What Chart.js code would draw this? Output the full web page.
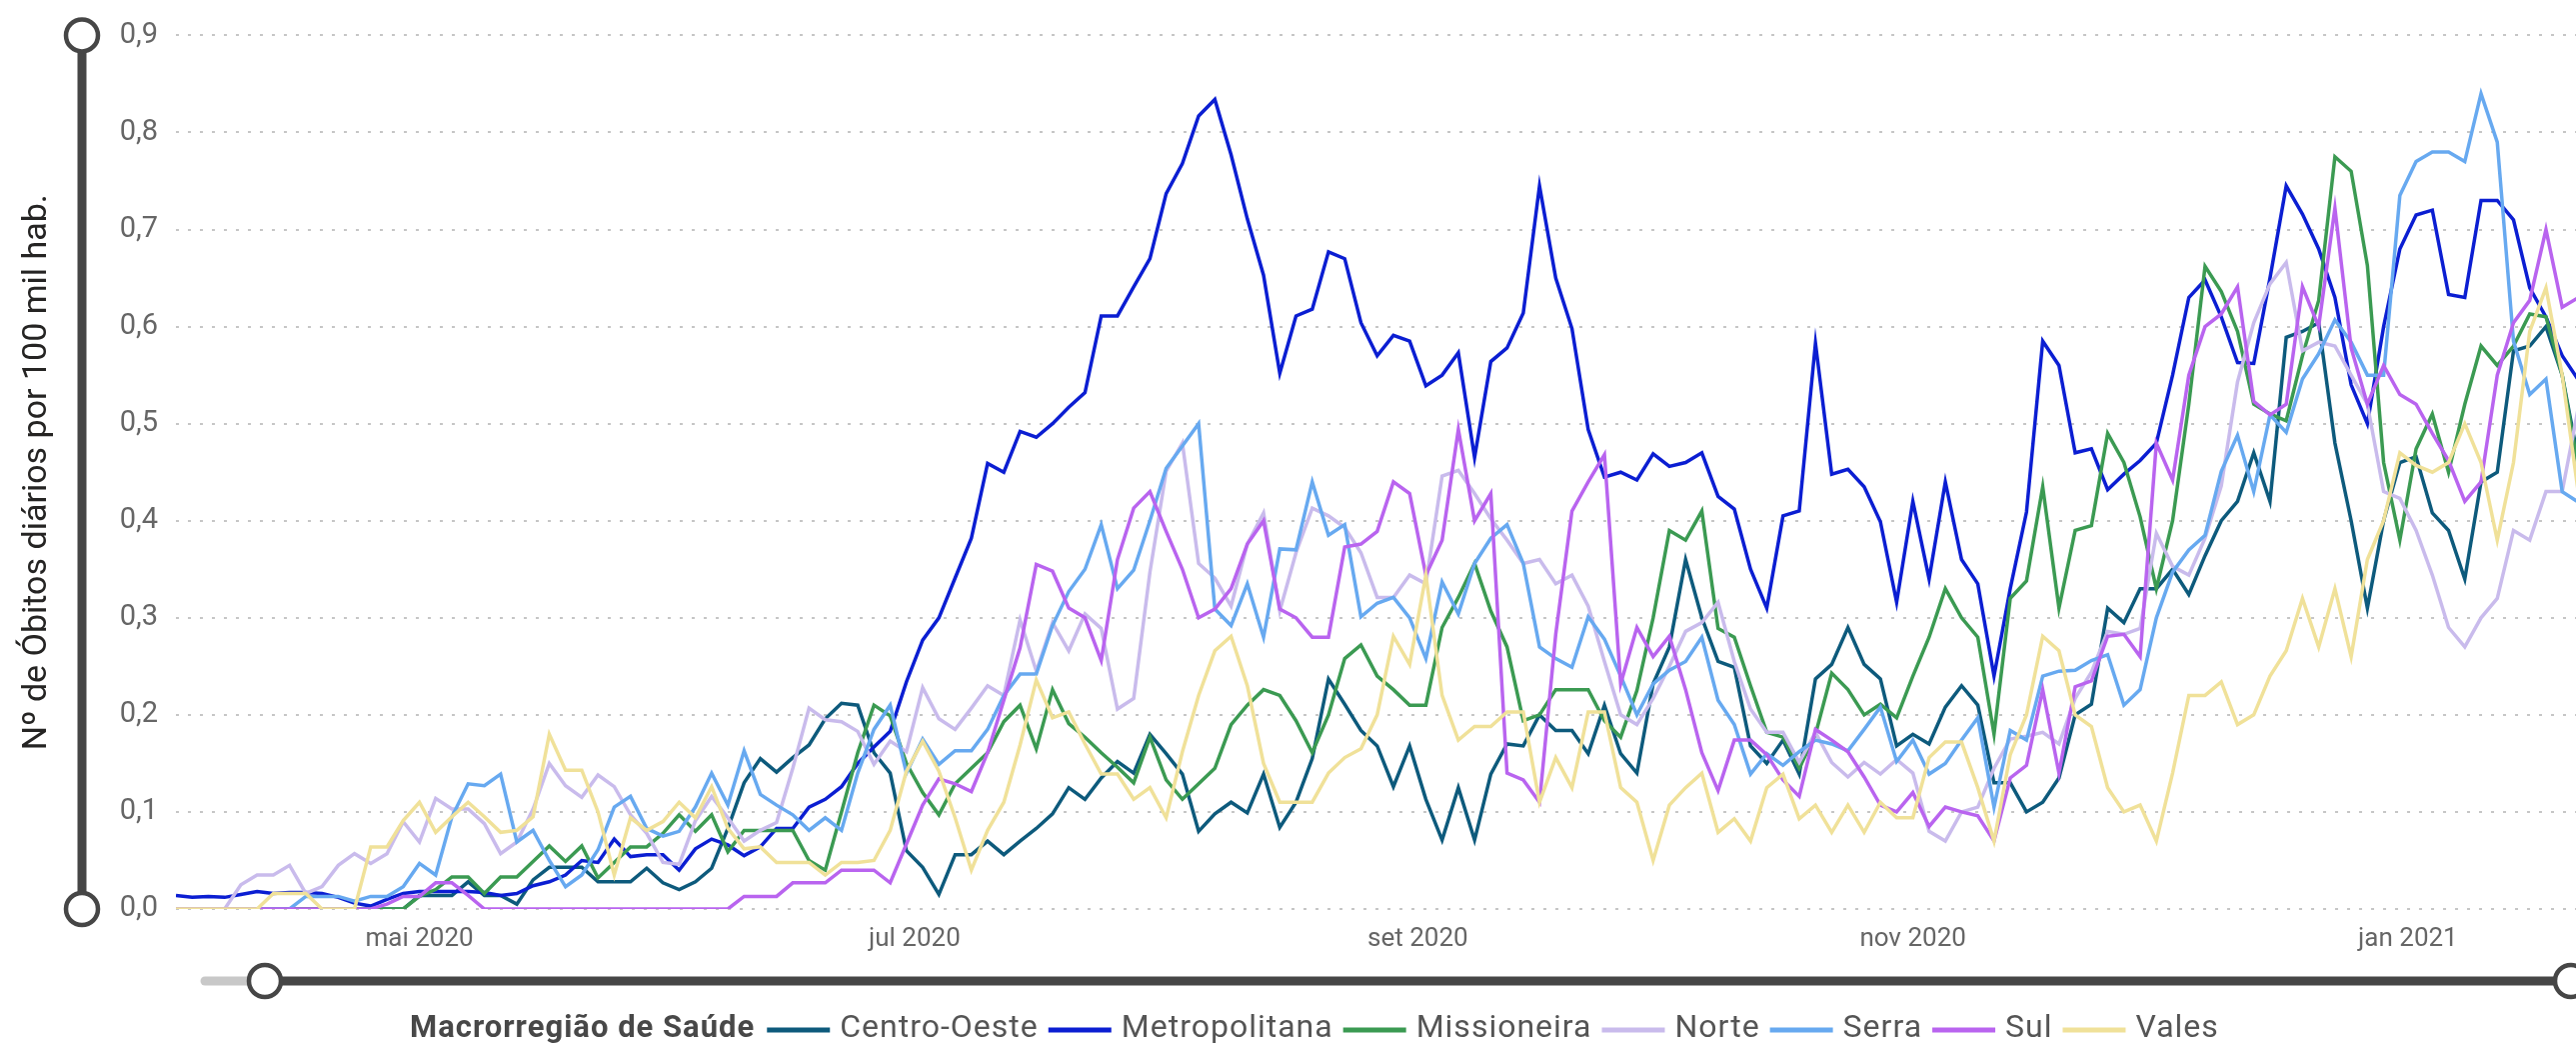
<!DOCTYPE html>
<html lang="pt-BR">
<head>
<meta charset="UTF-8">
<title>Óbitos diários por Macrorregião de Saúde</title>
<script src="https://cdn.jsdelivr.net/npm/chart.js@4"></script>
<style>
  html, body { margin: 0; padding: 0; background: #fff; overflow: hidden; }
  canvas { display: block; }
</style>
</head>
<body>
<canvas id="grafico" width="2577" height="1045"></canvas>
<script>
// valores lidos a cada 2 dias, a partir de 01/04/2020
const inicio = '2020-04-01';
const passoDias = 2;

const regioes = ['Centro-Oeste', 'Metropolitana', 'Missioneira', 'Norte', 'Serra', 'Sul', 'Vales'];
const cores = ['#0d5a7c', '#0b1ed2', '#3b9a52', '#c9bbec', '#67a9f0', '#b964ef', '#f0e199'];

const centroOeste = [
  0, 0, 0, 0, 0, 0, 0, 0, 0, 0,
  0, 0, 0, 0, 0, .014, .014, .014, .028, .014,
  .014, .005, .030, .043, .043, .043, .028, .028, .028, .042,
  .027, .020, .028, .042, .083, .130, .155, .141, .156, .169,
  .196, .212, .210, .161, .140, .060, .043, .015, .056, .056,
  .070, .056, .070, .083, .098, .125, .113, .135, .152, .140,
  .180, .160, .139, .080, .098, .110, .099, .139, .084, .110,
  .155, .237, .211, .184, .168, .126, .168, .113, .071, .125,
  .071, .139, .170, .168, .200, .184, .184, .160, .210, .160,
  .140, .232, .270, .360, .300, .255, .249, .168, .150, .174,
  .139, .237, .252, .290, .252, .237, .168, .180, .170, .208,
  .230, .210, .130, .130, .100, .110, .135, .200, .211, .310,
  .295, .330, .330, .350, .324, .364, .400, .420, .470, .420,
  .589, .595, .604, .480, .400, .310, .400, .460, .466, .408,
  .390, .340, .440, .450, .575, .580, .600, .550, .462
];
const metropolitana = [
  .014, .012, .013, .012, .015, .018, .016, .017, .017, .016,
  .012, .006, .003, .010, .016, .018, .018, .018, .018, .017,
  .014, .016, .024, .028, .035, .050, .048, .072, .054, .056,
  .056, .040, .062, .072, .066, .055, .064, .083, .083, .105,
  .113, .126, .150, .167, .183, .234, .277, .300, .341, .382,
  .459, .450, .492, .486, .500, .517, .532, .611, .611, .641,
  .670, .737, .768, .817, .834, .777, .711, .653, .552, .611,
  .618, .677, .670, .604, .570, .591, .585, .539, .550, .573,
  .465, .564, .578, .614, .745, .650, .598, .494, .445, .450,
  .442, .469, .456, .460, .470, .425, .412, .350, .310, .405,
  .410, .583, .448, .453, .435, .399, .316, .420, .340, .440,
  .360, .335, .240, .330, .409, .585, .560, .470, .474, .432,
  .448, .462, .480, .550, .630, .648, .610, .563, .562, .650,
  .745, .716, .680, .630, .540, .500, .600, .680, .715, .720,
  .633, .630, .730, .730, .710, .640, .610, .570, .545
];
const missioneira = [
  0, 0, 0, 0, 0, 0, 0, 0, 0, 0,
  0, 0, 0, 0, 0, .013, .020, .033, .033, .016,
  .033, .033, .049, .065, .049, .065, .032, .048, .064, .064,
  .078, .097, .080, .097, .059, .081, .081, .081, .081, .050,
  .040, .100, .161, .210, .199, .150, .120, .097, .129, .145,
  .161, .193, .210, .165, .226, .191, .177, .161, .146, .130,
  .177, .133, .113, .129, .145, .190, .210, .226, .220, .194,
  .161, .200, .258, .272, .240, .226, .210, .210, .290, .321,
  .356, .307, .270, .194, .200, .226, .226, .226, .194, .177,
  .225, .300, .390, .380, .410, .289, .280, .230, .182, .177,
  .145, .180, .243, .226, .200, .211, .197, .240, .280, .330,
  .300, .280, .180, .320, .338, .435, .310, .390, .395, .490,
  .460, .404, .330, .400, .520, .662, .636, .595, .520, .510,
  .503, .570, .627, .775, .760, .663, .460, .380, .474, .510,
  .450, .520, .580, .560, .580, .613, .610, .550, .454
];
const norte = [
  0, 0, 0, 0, .025, .035, .035, .045, .016, .023,
  .045, .057, .047, .057, .090, .069, .114, .103, .103, .088,
  .057, .069, .103, .150, .127, .115, .138, .126, .097, .078,
  .048, .046, .091, .116, .094, .070, .081, .089, .145, .207,
  .195, .193, .183, .149, .173, .162, .228, .196, .185, .207,
  .230, .220, .298, .245, .295, .266, .304, .289, .206, .217,
  .347, .451, .480, .356, .341, .312, .376, .408, .307, .367,
  .413, .405, .393, .367, .321, .321, .344, .335, .446, .452,
  .428, .402, .380, .356, .360, .335, .344, .312, .255, .200,
  .190, .217, .250, .286, .295, .316, .255, .206, .182, .182,
  .151, .182, .151, .136, .151, .139, .154, .140, .080, .070,
  .100, .105, .145, .175, .178, .182, .170, .217, .244, .286,
  .283, .289, .387, .353, .344, .382, .436, .543, .604, .644,
  .666, .575, .584, .580, .550, .520, .430, .423, .390, .344,
  .290, .270, .300, .320, .390, .380, .430, .430, .517
];
const serra = [
  0, 0, 0, 0, 0, 0, 0, 0, .013, .013,
  .013, .008, .013, .013, .023, .047, .035, .095, .129, .127,
  .139, .069, .081, .050, .023, .035, .061, .105, .116, .083,
  .075, .080, .105, .140, .107, .163, .118, .107, .097, .081,
  .094, .081, .140, .185, .210, .140, .175, .149, .163, .163,
  .185, .220, .242, .242, .292, .327, .350, .396, .330, .349,
  .400, .454, .477, .500, .309, .292, .335, .280, .371, .370,
  .440, .385, .396, .301, .315, .321, .300, .258, .337, .304,
  .356, .382, .396, .356, .270, .258, .249, .301, .278, .240,
  .200, .232, .246, .255, .280, .215, .190, .139, .160, .148,
  .162, .174, .170, .163, .185, .208, .152, .174, .139, .150,
  .174, .197, .105, .184, .174, .240, .245, .246, .256, .262,
  .210, .226, .300, .347, .370, .385, .451, .488, .430, .509,
  .491, .546, .572, .607, .584, .550, .550, .735, .770, .780,
  .780, .770, .840, .790, .585, .530, .546, .430, .419
];
const sul = [
  0, 0, 0, 0, 0, 0, 0, 0, 0, 0,
  0, 0, 0, .005, .013, .013, .027, .027, .014, 0,
  0, 0, 0, 0, 0, 0, 0, 0, 0, 0,
  0, 0, 0, 0, 0, .013, .013, .013, .027, .027,
  .027, .040, .040, .040, .027, .067, .107, .134, .129, .121,
  .161, .215, .269, .355, .348, .310, .300, .256, .360, .413,
  .430, .389, .350, .300, .309, .330, .376, .400, .309, .300,
  .280, .280, .373, .376, .389, .440, .428, .344, .380, .494,
  .400, .428, .140, .133, .110, .283, .410, .440, .468, .232,
  .290, .260, .281, .226, .161, .122, .174, .174, .159, .133,
  .116, .185, .174, .162, .136, .107, .100, .120, .085, .105,
  .100, .096, .070, .135, .148, .226, .140, .229, .235, .281,
  .283, .260, .480, .442, .550, .600, .613, .641, .523, .509,
  .520, .641, .600, .722, .578, .520, .560, .530, .520, .490,
  .462, .420, .440, .550, .604, .627, .700, .620, .630
];
const vales = [
  0, 0, 0, 0, 0, 0, .016, .016, .016, 0,
  0, 0, .064, .064, .091, .110, .079, .095, .110, .095,
  .079, .081, .095, .180, .143, .143, .100, .035, .094, .081,
  .090, .110, .094, .126, .083, .062, .064, .048, .048, .048,
  .035, .048, .048, .050, .081, .142, .173, .142, .094, .040,
  .081, .110, .169, .236, .197, .203, .170, .139, .139, .113,
  .125, .094, .162, .220, .266, .281, .230, .150, .110, .110,
  .110, .140, .156, .165, .200, .281, .252, .344, .220, .174,
  .188, .188, .203, .203, .110, .156, .125, .203, .203, .125,
  .110, .050, .107, .125, .140, .079, .093, .070, .125, .139,
  .093, .107, .079, .107, .079, .110, .094, .094, .156, .172,
  .172, .125, .070, .159, .200, .281, .266, .200, .188, .125,
  .100, .107, .070, .140, .220, .220, .234, .190, .200, .240,
  .266, .320, .270, .330, .260, .360, .400, .470, .457, .450,
  .460, .500, .460, .380, .460, .595, .640, .550, .428
];

const datasTicks = ['2020-05-01', '2020-07-01', '2020-09-01', '2020-11-01', '2021-01-01'];
const rotulosTicks = ['mai 2020', 'jul 2020', 'set 2020', 'nov 2020', 'jan 2021'];

const series = [centroOeste, metropolitana, missioneira, norte, serra, sul, vales];

// dias desde o início
const diaDe = s => Math.round((Date.parse(s) - Date.parse(inicio)) / 864e5);
const posTicks = datasTicks.map(diaDe);

Chart.defaults.font.family = 'Roboto';

function circulo(ctx, x, y) {
  ctx.beginPath();
  ctx.arc(x, y, 16, 0, Math.PI * 2);
  ctx.fillStyle = '#fff';
  ctx.fill();
  ctx.lineWidth = 4.5;
  ctx.strokeStyle = '#464646';
  ctx.stroke();
}

// controles deslizantes e legenda (estilo Power BI)
const extras = {
  id: 'extras',
  afterDraw(chart) {
    const ctx = chart.ctx;
    const { top, bottom } = chart.chartArea;
    ctx.save();

    ctx.lineWidth = 9;
    ctx.strokeStyle = '#464646';
    ctx.beginPath();
    ctx.moveTo(82, top);
    ctx.lineTo(82, bottom);
    ctx.stroke();
    circulo(ctx, 82, top);
    circulo(ctx, 82, bottom);

    const yS = 981;
    ctx.lineWidth = 9;
    ctx.lineCap = 'round';
    ctx.strokeStyle = '#c8c8c8';
    ctx.beginPath();
    ctx.moveTo(205, yS);
    ctx.lineTo(265, yS);
    ctx.stroke();
    ctx.lineCap = 'butt';
    ctx.strokeStyle = '#464646';
    ctx.beginPath();
    ctx.moveTo(265, yS);
    ctx.lineTo(chart.width, yS);
    ctx.stroke();
    circulo(ctx, 265, yS);
    circulo(ctx, 2572, yS);

    // legenda
    let x = 410;
    const yL = 1029;
    ctx.textBaseline = 'middle';
    ctx.textAlign = 'left';
    ctx.letterSpacing = '1px';
    ctx.font = 'bold 31px Roboto';
    ctx.fillStyle = '#484848';
    const titulo = 'Macrorregião de Saúde';
    ctx.fillText(titulo, x, yL);
    x += ctx.measureText(titulo).width + 12;
    ctx.font = '32px Roboto';
    chart.data.datasets.forEach(ds => {
      ctx.strokeStyle = ds.borderColor;
      ctx.lineWidth = 5;
      ctx.beginPath();
      ctx.moveTo(x, yL + 1);
      ctx.lineTo(x + 63, yL + 1);
      ctx.stroke();
      x += 63 + 10;
      ctx.fillStyle = '#555';
      ctx.fillText(ds.label, x, yL);
      x += ctx.measureText(ds.label).width + 10;
    });
    ctx.restore();
  }
};

const ctx = document.getElementById('grafico').getContext('2d');
new Chart(ctx, {
  type: 'line',
  data: {
    datasets: regioes.map((nome, i) => ({
      label: nome,
      data: series[i].map((v, k) => ({ x: k * passoDias, y: v })),
      borderColor: cores[i],
      backgroundColor: cores[i],
      borderWidth: 3.5,
      pointRadius: 0,
      tension: 0,
      order: regioes.length - i
    }))
  },
  options: {
    responsive: false,
    animation: false,
    devicePixelRatio: 1,
    layout: { padding: { top: 30, right: 0, bottom: 0, left: 0 } },
    plugins: {
      legend: { display: false },
      tooltip: { enabled: false }
    },
    scales: {
      x: {
        type: 'linear',
        min: 0,
        max: 295.7,
        grid: { display: false },
        border: { display: false },
        ticks: {
          autoSkip: false,
          maxRotation: 0,
          padding: 7,
          color: '#666',
          font: { size: 26 },
          callback: (v, i) => rotulosTicks[i]
        },
        afterBuildTicks: s => { s.ticks = posTicks.map(v => ({ value: v })); },
        afterFit: s => { s.height = 136; }
      },
      y: {
        min: 0,
        max: 0.9,
        grid: { color: '#c6c6c6', lineWidth: 2, drawTicks: false },
        border: { display: false, dash: [3, 9] },
        ticks: {
          stepSize: 0.1,
          padding: 18,
          color: '#666',
          font: { size: 29 },
          callback: v => v.toFixed(1).replace('.', ',')
        },
        title: {
          display: true,
          text: 'Nº de Óbitos diários por 100 mil hab.',
          color: '#252423',
          font: { size: 34 },
          padding: { top: 17, bottom: 0 }
        },
        afterFit: s => { s.width = 176; }
      }
    }
  },
  plugins: [extras]
});
</script>
</body>
</html>
